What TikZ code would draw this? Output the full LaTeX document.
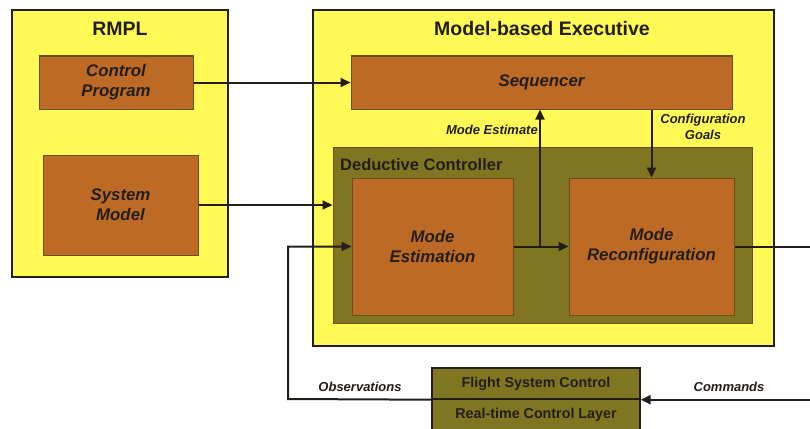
\documentclass[tikz,border=0pt]{standalone}
\usepackage{fontspec}
\setmainfont{Liberation Sans}
\usetikzlibrary{arrows.meta}
\definecolor{padyellow}{RGB}{255,250,85}
\definecolor{rust}{RGB}{188,106,38}
\definecolor{rustedge}{RGB}{105,78,32}
\definecolor{olive}{RGB}{128,118,34}
\definecolor{ink}{RGB}{35,30,25}
\tikzset{
  panel/.style={draw=ink, line width=1.8pt, fill=padyellow},
  inner/.style={draw=rustedge, line width=1pt, fill=olive},
  block/.style={draw=rustedge, line width=1pt, fill=rust, text=ink,
    font=\fontsize{16.8}{20}\selectfont\bfseries\itshape, align=center, inner sep=0pt},
  layer/.style={draw=ink, line width=1.4pt, fill=olive, text=ink,
    font=\fontsize{14.3}{16}\selectfont\bfseries, inner sep=0pt},
  title/.style={text=ink, font=\fontsize{19.5}{22}\selectfont\bfseries, inner sep=0pt},
  tag/.style={text=ink, font=\fontsize{13}{16}\selectfont\bfseries\itshape, align=center, inner sep=0pt},
  conn/.style={draw=ink, line width=2pt, -{Triangle[length=10pt,width=9pt]}},
}
\begin{document}
\begin{tikzpicture}[x=1pt,y=-1pt]
\useasboundingbox (0,0) rectangle (810,428);
\clip (0,0) rectangle (810,428);
\fill[white] (0,0) rectangle (810,428);

% RMPL panel
\node[panel, minimum width=216pt, minimum height=267pt] (rmpl) at (120,143.5) {};
\node[title] (rmpltitle) at (120,29) {RMPL};
\node[block, minimum width=154pt, minimum height=53pt] (cp) at (116,82.5) {Control\\Program};
\node[block, minimum width=155pt, minimum height=100pt] (sm) at (120.5,205) {System\\Model};

% Model-based Executive panel
\node[panel, minimum width=461pt, minimum height=336pt] (mbe) at (543.5,178) {};
\node[title] (mbetitle) at (542,29) {Model-based Executive};
\node[block, minimum width=381pt, minimum height=53pt] (seq) at (541.5,82.5) {Sequencer};

% Deductive controller
\node[inner, minimum width=419pt, minimum height=176pt] (dc) at (542.5,235) {};
\node[title, font=\fontsize{16.5}{19}\selectfont\bfseries, anchor=west] (dctitle) at (340,165) {Deductive Controller};
\node[block, minimum width=161pt, minimum height=137pt] (me) at (432.5,246.5) {Mode\\Estimation};
\node[block, minimum width=165pt, minimum height=137pt] (mr) at (651.5,246.5) {Mode\\Reconfiguration};

% Real-time layer
\node[layer, minimum width=208pt, minimum height=31pt] (fsc) at (536,383.5) {Flight System Control};
\node[layer, minimum width=208pt, minimum height=31pt] (rcl) at (536,414.5) {Real-time Control Layer};

% Connectors
\draw[conn] (cp.east) -- (seq.west);
\draw[conn] (sm.east) -- (sm.east -| dc.west);
\draw[conn] (me.east) -- (mr.west);
\coordinate (split) at (540,246.5);
\draw[conn] (split) -- (split |- seq.south);
\draw[conn] (mr.north |- seq.south) -- (mr.north);
\coordinate (obsturn) at (288,399);
\draw[conn] (fsc.south west) -- (obsturn) |- (me.west);
\coordinate (cmdturn) at (816,246.5);
\draw[conn] (mr.east) -- (cmdturn) |- (fsc.south east);

% Labels
\node[tag, anchor=east] (lme) at (538,130) {Mode Estimate};
\node[tag] (lcg) at (703,127) {Configuration\\Goals};
\node[tag] (lobs) at (360,387) {Observations};
\node[tag] (lcmd) at (729,387) {Commands};
\end{tikzpicture}
\end{document}
